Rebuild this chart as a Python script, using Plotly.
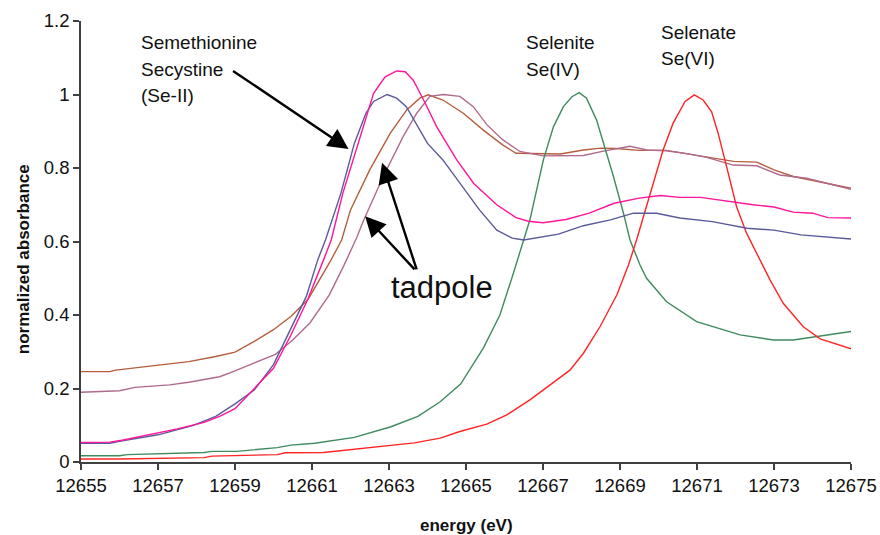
import plotly.graph_objects as go

# ---- data ----
x_ticks = [12655, 12657, 12659, 12661, 12663, 12665, 12667, 12669, 12671, 12673, 12675]

secys_e = [12655, 12655.75, 12656, 12657, 12657.9, 12658.5, 12659, 12659.5, 12660, 12660.4,
           12660.85, 12661.15, 12661.35, 12661.75, 12662.1, 12662.4, 12662.6, 12662.95, 12663.2,
           12663.45, 12663.7, 12664, 12664.4, 12664.9, 12665.35, 12665.8, 12666.2, 12666.5,
           12667.4, 12668.05, 12668.75, 12669.35, 12669.95, 12670.55, 12671.4, 12672.3, 12673,
           12673.7, 12675]
secys_v = [0.051, 0.051, 0.056, 0.074, 0.099, 0.124, 0.158, 0.196, 0.265, 0.35,
           0.45, 0.55, 0.604, 0.731, 0.867, 0.949, 0.981, 1.0, 0.99,
           0.967, 0.922, 0.867, 0.822, 0.749, 0.686, 0.631, 0.609, 0.604,
           0.620, 0.643, 0.659, 0.677, 0.677, 0.664, 0.654, 0.636, 0.631,
           0.618, 0.607]

semet_e = [12655, 12655.75, 12656.1, 12656.8, 12657.5, 12658.2, 12658.6, 12659, 12659.5, 12660,
           12660.45, 12660.9, 12661.3, 12661.5, 12661.8, 12662.33, 12662.6, 12662.9, 12663.2,
           12663.42, 12663.63, 12663.9, 12664.24, 12664.76, 12665.2, 12665.8, 12666.3, 12666.62,
           12667.0, 12667.6, 12668.2, 12668.85, 12669.5, 12670.05, 12670.55, 12671.1, 12671.8,
           12672.45, 12673, 12673.5, 12674, 12674.4, 12675]
semet_v = [0.053, 0.054, 0.06, 0.075, 0.09, 0.108, 0.124, 0.145, 0.2, 0.255,
           0.345, 0.445, 0.55, 0.604, 0.731, 0.912, 1.003, 1.048, 1.064,
           1.062, 1.039, 0.985, 0.912, 0.822, 0.758, 0.70, 0.665, 0.655,
           0.651, 0.660, 0.677, 0.704, 0.718, 0.725, 0.720, 0.720, 0.709,
           0.700, 0.694, 0.680, 0.677, 0.665, 0.664]

tad1_e = [12655, 12655.75, 12655.9, 12657, 12657.8, 12658.5, 12659, 12659.5, 12660, 12660.45,
          12660.9, 12661.47, 12661.77, 12662, 12662.5, 12663.03, 12663.46, 12663.8, 12664.02,
          12664.4, 12664.93, 12665.45, 12665.95, 12666.3, 12666.9, 12667.45, 12668.05, 12668.5,
          12668.9, 12669.5, 12670.2, 12670.9, 12671.6, 12671.95, 12672.55, 12673, 12673.5,
          12674.2, 12675]
tad1_v = [0.246, 0.246, 0.25, 0.264, 0.273, 0.287, 0.299, 0.328, 0.36, 0.396,
          0.443, 0.545, 0.604, 0.686, 0.795, 0.894, 0.958, 0.99, 0.999,
          0.985, 0.949, 0.903, 0.863, 0.84, 0.838, 0.838, 0.849, 0.854,
          0.853, 0.848, 0.848, 0.836, 0.822, 0.818, 0.816, 0.795, 0.777,
          0.763, 0.745]

tad2_e = [12655, 12656, 12656.4, 12657.3, 12657.8, 12658.6, 12659, 12659.5, 12660.05, 12660.5,
          12660.95, 12661.45, 12661.83, 12662.16, 12662.33, 12662.85, 12663.37, 12663.72,
          12664.06, 12664.41, 12664.84, 12665.19, 12665.54, 12665.95, 12666.4, 12667.0,
          12668.05, 12668.57, 12669.26, 12669.7, 12670.2, 12670.73, 12671.25, 12671.94,
          12672.55, 12673.15, 12673.85, 12675]
tad2_v = [0.19, 0.194, 0.203, 0.21, 0.217, 0.232, 0.248, 0.269, 0.293, 0.332,
          0.379, 0.455, 0.535, 0.61, 0.655, 0.777, 0.886, 0.949,
          0.995, 1.0, 0.995, 0.967, 0.918, 0.877, 0.845, 0.833,
          0.834, 0.846, 0.859, 0.849, 0.847, 0.839, 0.829, 0.808,
          0.806, 0.781, 0.772, 0.742]

selenite_e = [12655, 12656, 12656.2, 12657.2, 12658.2, 12658.4, 12659.05, 12660.1, 12660.45,
              12661.07, 12662.1, 12663.05, 12663.75, 12664.33, 12664.86, 12665.45, 12665.88,
              12666.19, 12666.49, 12666.66, 12667.01, 12667.27, 12667.53, 12667.75, 12667.94,
              12668.13, 12668.39, 12668.57, 12668.83, 12669.09, 12669.26, 12669.52, 12669.69,
              12670.21, 12670.99, 12672.12, 12672.98, 12673.5, 12674.2, 12675]
selenite_v = [0.017, 0.017, 0.02, 0.022, 0.026, 0.029, 0.029, 0.039, 0.046,
              0.051, 0.067, 0.096, 0.124, 0.164, 0.212, 0.31, 0.4,
              0.5, 0.604, 0.659, 0.822, 0.912, 0.967, 0.994, 1.005,
              0.99, 0.931, 0.867, 0.777, 0.677, 0.604, 0.536, 0.5,
              0.436, 0.382, 0.346, 0.332, 0.332, 0.343, 0.355]

selenate_e = [12655, 12656, 12658.2, 12658.4, 12660.1, 12660.3, 12661.3, 12662.45, 12663.05,
              12663.66, 12664.33, 12664.84, 12665.54, 12666.06, 12666.66, 12667.18, 12667.7,
              12668.05, 12668.48, 12668.92, 12669.22, 12669.43, 12669.78, 12670.12, 12670.38,
              12670.69, 12670.93, 12671.16, 12671.38, 12671.55, 12671.77, 12672.03, 12672.29,
              12672.64, 12672.9, 12673.24, 12673.76, 12674.2, 12675]
selenate_v = [0.008, 0.008, 0.012, 0.016, 0.02, 0.025, 0.026, 0.039, 0.045,
              0.052, 0.065, 0.083, 0.103, 0.128, 0.169, 0.21, 0.25,
              0.296, 0.368, 0.455, 0.536, 0.604, 0.731, 0.849, 0.922,
              0.981, 0.999, 0.985, 0.953, 0.894, 0.803, 0.694, 0.622,
              0.55, 0.495, 0.432, 0.368, 0.335, 0.308]

series = [
    (tad1_e, tad1_v, "#B55E3E"),
    (tad2_e, tad2_v, "#B06A8E"),
    (selenite_e, selenite_v, "#3F8A5E"),
    (selenate_e, selenate_v, "#FF2424"),
    (secys_e, secys_v, "#5A5A9A"),
    (semet_e, semet_v, "#FF149A"),
]

FONT = "Liberation Sans, Arial, sans-serif"

fig = go.Figure()
for e, v, c in series:
    fig.add_trace(go.Scatter(x=e, y=v, mode="lines", line=dict(color=c, width=1.4),
                             showlegend=False, hoverinfo="skip"))

ann = []
def label(text, x, y, size=19, xanchor="left"):
    ann.append(dict(x=x, y=y, xref="x", yref="y", text=text, showarrow=False,
                    xanchor=xanchor, yanchor="middle",
                    font=dict(family=FONT, size=size, color="#111111")))

label("Semethionine", 12656.5, 1.141)
label("Secystine", 12656.5, 1.068)
label("(Se-II)", 12656.5, 0.998)
label("Selenite", 12666.5, 1.141)
label("Se(IV)", 12666.5, 1.068)
label("Selenate", 12670.0, 1.168)
label("Se(VI)", 12670.0, 1.098)
label("tadpole", 12663.0, 0.476, size=31)

def arrow(x_tip, y_tip, x_tail, y_tail):
    ann.append(dict(x=x_tip, y=y_tip, ax=x_tail, ay=y_tail, xref="x", yref="y",
                    axref="x", ayref="y", text="", showarrow=True,
                    arrowhead=2, arrowsize=1.7, arrowwidth=2.4, arrowcolor="#000000"))

arrow(12661.95, 0.852, 12658.91, 1.067)
arrow(12662.82, 0.814, 12663.73, 0.52)
arrow(12662.38, 0.669, 12663.70, 0.52)

# axis titles
ann.append(dict(x=0.5, y=-0.145, xref="paper", yref="paper", text="<b>energy (eV)</b>",
                showarrow=False, xanchor="center", yanchor="middle",
                font=dict(family=FONT, size=17, color="#111111")))
ann.append(dict(x=-0.0753, y=0.46, xref="paper", yref="paper", text="<b>normalized absorbance</b>",
                showarrow=False, xanchor="center", yanchor="middle", textangle=-90,
                font=dict(family=FONT, size=17, color="#111111")))

axis_common = dict(showline=True, linecolor="#404040", linewidth=1.5, ticks="outside",
                   ticklen=6, tickwidth=1.5, tickcolor="#404040", showgrid=False,
                   zeroline=False, tickfont=dict(family=FONT, size=18.5, color="#111111"))

fig.update_layout(
    width=880, height=535,
    margin=dict(l=81, r=29, t=21, b=73, autoexpand=False),
    paper_bgcolor="white", plot_bgcolor="white",
    xaxis=dict(range=[12655, 12675], tickvals=x_ticks, ticktext=[str(t) for t in x_ticks],
               **axis_common),
    yaxis=dict(range=[0, 1.2], dtick=0.2, tick0=0, **axis_common),
    annotations=ann,
)

fig.write_html("out.html", config={"displayModeBar": False},
               post_script="document.body.style.margin='0';document.body.style.overflow='hidden';")
